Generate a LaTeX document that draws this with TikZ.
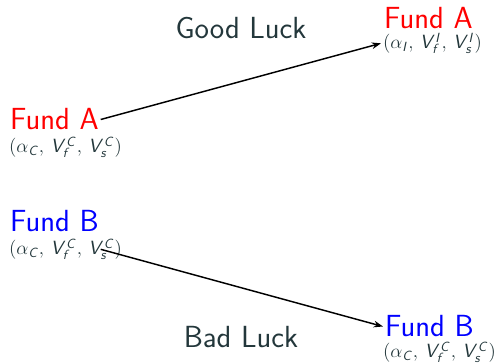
\documentclass[tikz,border=0pt]{standalone}
\usepackage{tikz}
\usetikzlibrary{positioning, calc, arrows.meta}
\DeclareMathAlphabet{\mathsfit}{OT1}{cmss}{m}{sl}
\definecolor{slidetext}{HTML}{23373B}
\newcommand{\fundvals}[1]{$(\alpha_{\mathsfit{#1}},\,\mathsfit{V}_{\mathsfit{f}}^{\mathsfit{#1}},\,\mathsfit{V}_{\mathsfit{s}}^{\mathsfit{#1}})$}

\begin{document}
\begin{tikzpicture}[x=0.02646cm, y=-0.02646cm, line width=1.1pt, >={Stealth[length=7pt,width=5pt]},
    fund/.style={font=\sffamily\fontsize{23}{27}\selectfont, inner sep=1pt, anchor=base west},
    vals/.style={font=\fontsize{14}{16}\selectfont, text=slidetext, inner sep=1pt, anchor=base west},
    luck/.style={font=\sffamily\fontsize{23}{27}\selectfont, text=slidetext, inner sep=1pt, anchor=base}]

    \useasboundingbox (0, 0) rectangle (494, 364);

    % --- Today (left side) ---
    \node[fund, text=red] (fa) at (8, 130) {Fund A};
    \node[vals] (fasub) at (7, 153) {\fundvals{C}};
    \node[fund, text=blue] (fb) at (8, 232) {Fund B};
    \node[vals] (fbsub) at (7, 255) {\fundvals{C}};

    % --- Tomorrow (right side) ---
    \node[fund, text=red] (far) at (382, 29) {Fund A};
    \node[vals] (farsub) at (381, 49) {\fundvals{I}};
    \node[fund, text=blue] (fbr) at (383, 337) {Fund B};
    \node[vals] (fbrsub) at (381, 358) {\fundvals{C}};

    % --- Outcomes ---
    \node[luck] (good) at (241, 39) {Good Luck};
    \node[luck] (bad) at (241, 348) {Bad Luck};

    % --- Transitions ---
    \draw[->] (fa.east) -- (farsub.west);
    \draw[->] (fb.east |- fbsub.center) -- (fbr.west);

\end{tikzpicture}
\end{document}
